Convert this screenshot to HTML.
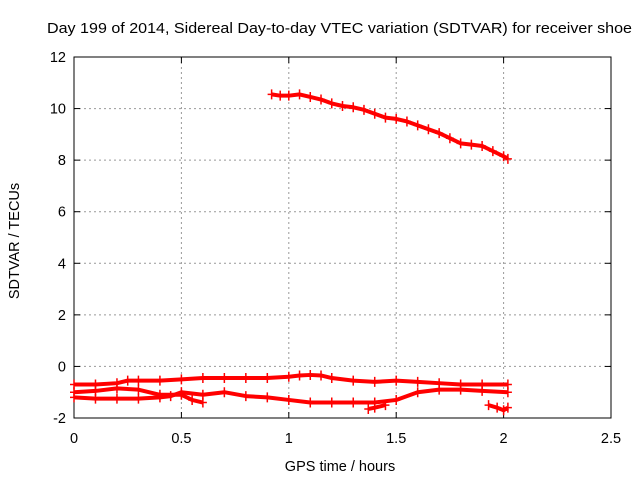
<!DOCTYPE html>
<html><head><meta charset="utf-8"><style>
body{margin:0;background:#fff}
svg text{font-family:"Liberation Sans",sans-serif;font-size:14.5px;fill:#000}
</style></head><body>
<svg id="chart" width="640" height="480" xmlns="http://www.w3.org/2000/svg">
<rect width="640" height="480" fill="#fff"/>
<text x="47" y="33" textLength="585" lengthAdjust="spacingAndGlyphs">Day 199 of 2014, Sidereal Day-to-day VTEC variation (SDTVAR) for receiver shoe</text>
<text x="340" y="471" text-anchor="middle">GPS time / hours</text>
<text transform="translate(19,241) rotate(-90)" text-anchor="middle">SDTVAR / TECUs</text>
<g id="grid"></g><g id="axes"></g><g id="marks"></g>
</svg>
<script>
const xTicks=[0,0.5,1,1.5,2,2.5];
const xTickLabels=["0","0.5","1","1.5","2","2.5"];
const yTicks=[-2,0,2,4,6,8,10,12];
const yTickLabels=["-2","0","2","4","6","8","10","12"];
const topX=[0.92,0.96,1.0,1.05,1.1,1.15,1.2,1.25,1.3,1.35,1.4,1.45,1.5,1.55,1.6,1.65,1.7,1.75,1.8,1.85,1.9,1.95,2.0,2.02];
const topY=[10.55,10.5,10.5,10.55,10.45,10.35,10.2,10.1,10.05,9.95,9.8,9.65,9.6,9.5,9.35,9.2,9.05,8.85,8.65,8.6,8.55,8.35,8.15,8.05];
const s1X=[0,0.1,0.2,0.25,0.3,0.4,0.5,0.6,0.7,0.8,0.9,1.0,1.05,1.1,1.15,1.2,1.3,1.4,1.5,1.6,1.7,1.8,1.9,2.02];
const s1Y=[-0.7,-0.7,-0.65,-0.55,-0.55,-0.55,-0.5,-0.45,-0.45,-0.45,-0.45,-0.4,-0.35,-0.33,-0.35,-0.45,-0.55,-0.6,-0.55,-0.6,-0.65,-0.7,-0.7,-0.7];
const s2X=[0,0.1,0.2,0.3,0.4,0.5,0.55,0.6];
const s2Y=[-1.0,-0.95,-0.85,-0.9,-1.1,-1.1,-1.3,-1.4];
const s3X=[0,0.1,0.2,0.3,0.4,0.45,0.5,0.6,0.7,0.8,0.9,1.0,1.1,1.2,1.3,1.4,1.5,1.6,1.7,1.8,1.9,2.02];
const s3Y=[-1.2,-1.25,-1.25,-1.25,-1.2,-1.15,-1.0,-1.1,-1.0,-1.15,-1.2,-1.3,-1.4,-1.4,-1.4,-1.4,-1.3,-1.0,-0.9,-0.9,-0.95,-1.0];
const s4X=[1.37,1.4,1.45];
const s4Y=[-1.65,-1.6,-1.5];
const s5X=[1.93,1.97,2.0,2.02];
const s5Y=[-1.5,-1.6,-1.7,-1.6];
const X0=74,X1=611,Y0=418,Y1=57;
const sx=v=>X0+(v-0)/(2.5-0)*(X1-X0);
const sy=v=>Y0-(v+2)/14*(Y0-Y1);
const NS="http://www.w3.org/2000/svg";
function mk(t,a,p){const e=document.createElementNS(NS,t);for(const k in a)e.setAttribute(k,a[k]);p.appendChild(e);return e;}
const grid=document.getElementById('grid'),axes=document.getElementById('axes'),marks=document.getElementById('marks');
xTicks.forEach((v,i)=>{const x=sx(v);
 if(i>0&&i<xTicks.length-1){const g=mk('line',{x1:x,x2:x,y1:Y1,y2:Y0,stroke:'#999','stroke-dasharray':'2,3'},grid);
 
 }
 mk('line',{x1:x,x2:x,y1:Y0,y2:Y0-6,stroke:'#000'},axes);mk('line',{x1:x,x2:x,y1:Y1,y2:Y1+6,stroke:'#000'},axes);
 const t=mk('text',{x:x,y:Y0+25,'text-anchor':'middle'},axes);t.textContent=xTickLabels[i];
 
 });
yTicks.forEach((v,i)=>{const y=sy(v);
 if(i>0&&i<yTicks.length-1){const g=mk('line',{x1:X0,x2:X1,y1:y,y2:y,stroke:'#999','stroke-dasharray':'2,3'},grid);
 
 }
 mk('line',{x1:X0,x2:X0+6,y1:y,y2:y,stroke:'#000'},axes);mk('line',{x1:X1,x2:X1-6,y1:y,y2:y,stroke:'#000'},axes);
 const t=mk('text',{x:X0-8,y:y+5,'text-anchor':'end'},axes);t.textContent=yTickLabels[i];
 
 });
const fr=mk('rect',{x:X0,y:Y1,width:X1-X0,height:Y0-Y1,fill:'none',stroke:'#000'},axes);


function series(xs,ys,name){
 const g=mk('g',{},marks);
 
 
 mk('polyline',{points:xs.map((x,i)=>sx(x)+','+sy(ys[i])).join(' '),fill:'none',stroke:'#f00','stroke-width':4,'stroke-linejoin':'round'},g);
 xs.forEach((x,i)=>{const px=sx(x),py=sy(ys[i]);
  mk('path',{d:`M${px-4},${py}h8M${px},${py-5}v10`,stroke:'#f00','stroke-width':1.5},g);});
}
series(topX,topY,'series-upper');
series(s1X,s1Y,'series-band-1');
series(s2X,s2Y,'series-band-2');
series(s3X,s3Y,'series-band-3');
series(s4X,s4Y,'series-band-4');
series(s5X,s5Y,'series-band-5');
</script>
</body></html>
